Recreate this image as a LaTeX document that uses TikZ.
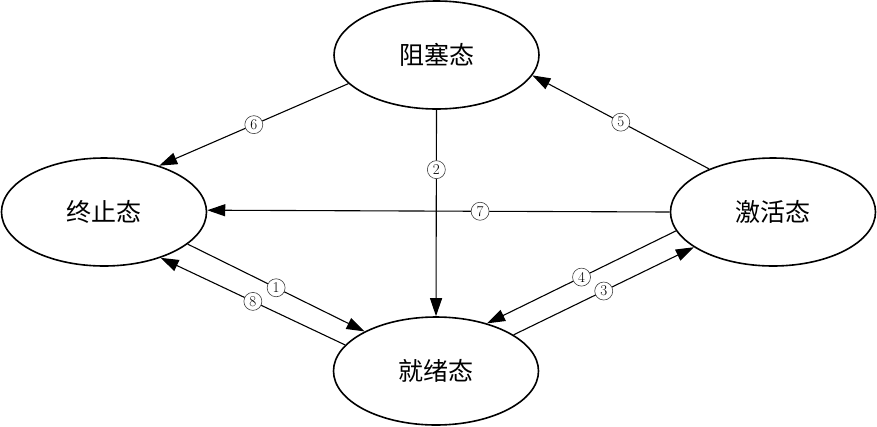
\documentclass[tikz,border=0pt]{standalone}
\usepackage{fontspec}
\newfontfamily\cjk{Noto Sans CJK SC}
\usetikzlibrary{arrows.meta,shapes.geometric}
\begin{document}
\begin{tikzpicture}[x=1pt,y=-1pt,
  state/.style={draw, ellipse, line width=1.6pt, minimum width=205pt, minimum height=108pt, inner sep=0pt, font=\cjk\fontsize{25}{30}\selectfont},
  trans/.style={line width=1.1pt, -{Triangle[length=18pt,width=12pt]}},
  num/.style={draw=black!75, circle, fill=white, line width=0.6pt, inner sep=0pt, minimum size=18pt, font=\fontsize{15}{15}\selectfont}]
\useasboundingbox (0,0) rectangle (877,426);
\node[state] (B) at (436.5,55) {阻塞态};
\node[state] (T) at (104,212) {终止态};
\node[state] (A) at (773,212) {激活态};
\node[state] (R) at (436,371) {就绪态};
\draw[trans] (B.198) -- node[num,pos=0.5]{6} (T.40);
\draw[trans] (B.south) -- node[num,pos=0.29]{2} (R.north);
\draw[trans] (A.180) -- node[num,pos=0.41]{7} (T.1.7);
\draw[trans] (A.146.9) -- node[num]{5} (B.-12.6);
\draw[trans] (T.-21.4) -- node[num]{1} (R.151);
\draw[trans] (R.164.6) -- node[num]{8} (T.-39.4);
\draw[trans] (A.191.3) -- node[num]{4} (R.43.9);
\draw[trans] (R.25.1) -- node[num]{3} (A.204.8);
\end{tikzpicture}
\end{document}
